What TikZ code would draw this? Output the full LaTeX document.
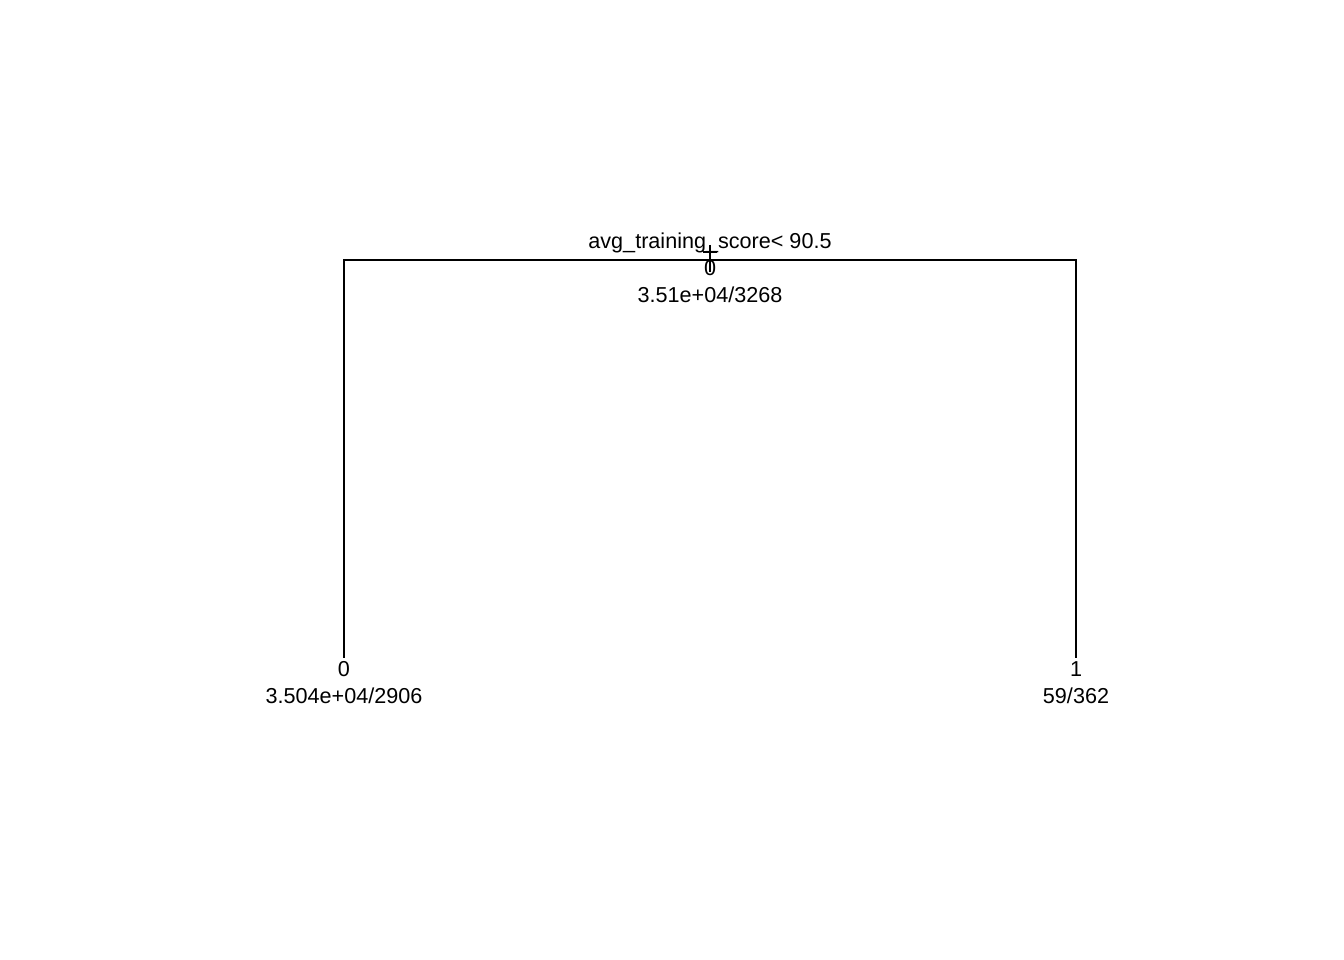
\documentclass[tikz,border=0pt]{standalone}
\usepackage{fontspec}
\setmainfont{Liberation Sans}
\begin{document}
\begin{tikzpicture}[x=1pt,y=-1pt,
  lbl/.style={anchor=base,inner sep=0pt,font=\fontsize{21.6}{24}\selectfont},
  edge/.style={line width=1.5pt,line cap=rect}]
\useasboundingbox (0,0) rectangle (1344,960);
\coordinate (root) at (710,260);
\coordinate (lc) at (344,260);
\coordinate (rc) at (1076,260);
\coordinate (ll) at (344,657);
\coordinate (rl) at (1076,657);
\draw[edge] (ll) -- (lc) -- (rc) -- (rl);
\node[lbl] (split) at (710,248) {avg\_training\_score< 90.5};
\node[lbl] (rootcls) at (710,275) {0};
\node[lbl] (rootn) at (710,302) {3.51e+04/3268};
\coordinate (tt) at (710,245);
\coordinate (tb) at (710,272);
\draw[line width=1.5pt] (tt) -- (tb);
\coordinate (hl) at (703,252);
\coordinate (hr) at (717,252);
\draw[line width=1.5pt] (hl) -- (hr);
\node[lbl] (lcls) at (344,676) {0};
\node[lbl] (ln) at (344,703) {3.504e+04/2906};
\node[lbl] (rcls) at (1076,676) {1};
\node[lbl] (rn) at (1076,703) {59/362};
\end{tikzpicture}
\end{document}
